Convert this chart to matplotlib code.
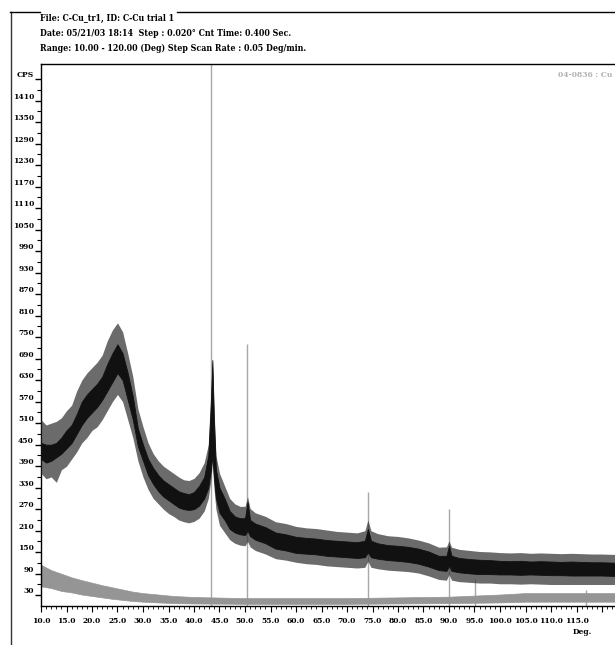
import matplotlib
matplotlib.use("Agg")
import matplotlib.pyplot as plt
from matplotlib.lines import Line2D
import numpy as np

# header / labels
header = ["File: C-Cu_tr1, ID: C-Cu trial 1",
          "Date: 05/21/03 18:14  Step : 0.020\u00b0 Cnt Time: 0.400 Sec.",
          "Range: 10.00 - 120.00 (Deg) Step Scan Rate : 0.05 Deg/min."]
card_label = "04-0836 : Cu"

tt = [10, 11, 12, 13, 14, 15, 16, 17, 18, 19, 20, 21, 22, 23, 24, 25, 26, 27, 28, 29,
      30, 31, 32, 33, 34, 35, 36, 37, 38, 39, 40, 41, 42, 42.8, 43.3, 43.6, 43.9, 44.3,
      45, 46, 47, 48, 49, 50, 50.5, 51, 52, 54, 56, 58, 60, 62, 64, 66, 68, 70, 72,
      73.5, 74.1, 74.7, 76, 78, 80, 82, 84, 86, 88, 89.5, 90.0, 90.5, 92, 94, 96, 98,
      100, 102, 104, 106, 108, 110, 112, 114, 116, 118, 120, 122, 124]
core_lo = [410, 400, 405, 415, 425, 440, 455, 480, 505, 525, 540, 555, 575, 600, 625, 650, 630, 575, 520, 445,
           405, 365, 340, 320, 305, 295, 285, 275, 270, 268, 270, 280, 300, 330, 380, 420, 360, 300,
           260, 240, 215, 205, 200, 198, 210, 195, 185, 175, 160, 155, 148, 146, 144, 140, 138, 136, 134,
           136, 150, 136, 132, 128, 126, 123, 118, 110, 100, 98, 112, 98, 94, 91, 89, 89,
           88, 88, 87, 88, 87, 86, 86, 85, 85, 85, 85, 84, 84]
core_hi = [455, 450, 450, 455, 470, 490, 505, 535, 570, 590, 605, 620, 640, 675, 705, 730, 705, 650, 585, 495,
           450, 410, 385, 365, 350, 340, 330, 320, 315, 312, 318, 335, 360, 420, 560, 686, 520, 380,
           330, 300, 265, 250, 245, 245, 290, 240, 230, 220, 205, 200, 193, 190, 188, 184, 182, 180, 178,
           182, 215, 182, 175, 170, 168, 165, 160, 152, 140, 140, 168, 140, 134, 131, 129, 128,
           126, 125, 126, 124, 125, 124, 123, 124, 123, 122, 122, 121, 121]
spike_lo = [370, 355, 360, 345, 380, 390, 410, 430, 455, 470, 490, 500, 520, 545, 570, 590, 570, 520, 470, 405,
            360, 325, 300, 285, 270, 258, 250, 240, 235, 232, 236, 245, 265, 300, 350, 400, 330, 270,
            225, 205, 185, 175, 170, 168, 180, 165, 155, 145, 132, 128, 122, 118, 116, 112, 110, 108, 106,
            108, 125, 108, 104, 100, 98, 96, 92, 84, 74, 72, 88, 72, 68, 66, 64, 64,
            62, 62, 61, 62, 61, 60, 60, 60, 60, 60, 60, 60, 60]
spike_hi = [520, 505, 510, 515, 525, 545, 560, 600, 630, 650, 665, 680, 700, 740, 770, 790, 765, 705, 640, 550,
            500, 455, 425, 405, 390, 380, 370, 360, 352, 350, 356, 372, 400, 450, 600, 690, 560, 420,
            370, 335, 300, 285, 278, 278, 305, 272, 260, 250, 235, 230, 222, 218, 216, 212, 208, 206, 204,
            210, 240, 210, 202, 196, 194, 190, 184, 176, 164, 165, 182, 164, 158, 155, 152, 151,
            149, 148, 149, 147, 148, 147, 146, 147, 146, 145, 145, 144, 144]

# second (grey) trace
bg_tt = [10, 12, 14, 16, 18, 20, 22, 24, 26, 28, 30, 33, 36, 40, 50, 60, 70, 80, 90, 100, 105, 110, 115, 120, 124]
bg_lo = [55, 50, 42, 38, 32, 28, 24, 20, 17, 14, 12, 10, 8, 7, 6, 6, 6, 7, 8, 10, 12, 12, 12, 12, 12]
bg_hi = [115, 100, 90, 80, 72, 65, 58, 52, 46, 40, 36, 32, 28, 25, 22, 22, 22, 24, 26, 32, 36, 36, 36, 36, 36]

# PDF card 04-0836 Cu stick positions / heights
cu_pos = [43.30, 50.43, 74.13, 89.93, 95.14, 116.92]
cu_height = [1512, 731, 318, 271, 75, 45]

yticks = list(range(30, 1471, 60))
ylabels = [str(v) for v in yticks[:-1]] + ["CPS"]
xticks = list(range(10, 121, 5))
xlabels = ["%.1f" % v for v in xticks[:-1]] + [""]

W, H = 615, 645
fnt = dict(family=["DejaVu Serif", "DejaVu Sans"], fontstretch="condensed", fontweight="bold")

fig = plt.figure(figsize=(W / 100, H / 100), dpi=100)
ax = fig.add_axes([41 / W, 1 - 606 / H, 586.5 / W, 542 / H])

ax.vlines(cu_pos, 0, cu_height, color="#a8a8a8", lw=1, zorder=1)
ax.fill_between(bg_tt, bg_lo, bg_hi, color="#959595", lw=0.5, zorder=2)
ax.fill_between(tt, spike_lo, spike_hi, color="#3a3a3a", alpha=0.75, lw=0, zorder=3)
ax.fill_between(tt, core_lo, core_hi, color="#111111", lw=0.6, zorder=4)

ax.set_xlim(10, 125)
ax.set_ylim(0, 1512)
ax.spines["right"].set_visible(False)
for s in ["left", "bottom", "top"]:
    ax.spines[s].set_linewidth(1)

ax.set_yticks(yticks)
ax.set_yticklabels(ylabels, **fnt, fontsize=6)
ax.set_yticks(range(60, 1500, 60), minor=True)
ax.tick_params(axis="y", which="major", direction="out", length=4, width=1, pad=1)
ax.tick_params(axis="y", which="minor", direction="out", length=3, width=0.8)
for lab in ax.get_yticklabels():
    lab.set_verticalalignment("bottom")

ax.set_xticks(xticks)
ax.set_xticklabels(xlabels, **fnt, fontsize=6)
ax.set_xticks(range(10, 125), minor=True)
ax.tick_params(axis="x", which="major", direction="out", length=4, width=0.8, pad=4)
ax.tick_params(axis="x", which="minor", direction="out", length=2.5, width=0.6)

fig.text(582 / W, 1 - 632 / H, "Deg.", ha="center", va="center", fontsize=6, **fnt)
fig.text(612 / W, 1 - 75 / H, card_label, ha="right", va="center", fontsize=6,
         color="#b0b0b0", **fnt)

for i, line in enumerate(header):
    fig.text(40 / W, 1 - (18 + 15 * i) / H, line, ha="left", va="center", fontsize=6.3, **fnt)

# outer frame
fig.add_artist(Line2D([10.5 / W, 10.5 / W], [1 - 12 / H, 0], transform=fig.transFigure,
                      color="#333333", lw=1))
fig.add_artist(Line2D([10 / W, 40 / W], [1 - 12 / H, 1 - 12 / H], transform=fig.transFigure,
                      color="k", lw=1))
fig.add_artist(Line2D([177 / W, 1], [1 - 12 / H, 1 - 12 / H], transform=fig.transFigure,
                      color="k", lw=1))

fig.savefig("out.png", dpi=100)
